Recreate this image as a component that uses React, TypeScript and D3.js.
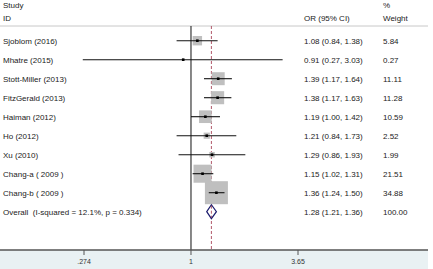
import React from 'react';
import * as d3 from 'd3';

// study rows, top to bottom
const studies = [
  'Sjoblom (2016)',
  'Mhatre (2015)',
  'Stott-Miller (2013)',
  'FitzGerald (2013)',
  'Haiman (2012)',
  'Ho (2012)',
  'Xu (2010)',
  'Chang-a ( 2009 )',
  'Chang-b ( 2009 )',
];
const oddsRatio = [1.08, 0.91, 1.39, 1.38, 1.19, 1.21, 1.29, 1.15, 1.36];
const ciLow = [0.84, 0.27, 1.17, 1.17, 1.0, 0.84, 0.86, 1.02, 1.24];
const ciHigh = [1.38, 3.03, 1.64, 1.63, 1.42, 1.73, 1.93, 1.31, 1.5];
const weights = [5.84, 0.27, 11.11, 11.28, 10.59, 2.52, 1.99, 21.51, 34.88];

// pooled estimate
const overallLabel = 'Overall\u00a0 (I-squared = 12.1%, p = 0.334)';
const overall = { or: 1.28, low: 1.21, high: 1.36, weight: 100 };

const axisTicks = [0.274, 1, 3.65];
const tickLabels = ['.274', '1', '3.65'];

const W = 433;
const H = 269;
const font = 'Liberation Sans, Arial, sans-serif';
const fmt = (v: number) => v.toFixed(2);

export default function App() {
  const x = d3.scaleLog().domain([0.274, 3.65]).range([84, 298]);
  const rows = [...studies, overallLabel];
  const y = d3.scalePoint<string>().domain(rows).range([40.7, 211.7]);
  // box side proportional to sqrt(weight)
  const side = d3.scaleSqrt().domain([0, 34.88]).range([0, 23]);

  const axisY = 250;
  const topY = 26;
  const oy = y(overallLabel)!;
  const dash = '#a8465a';

  return (
    <svg
      width={W}
      height={H}
      style={{ position: 'absolute', left: 0, top: 0, background: '#fff' }}
      fontFamily={font}
      fontSize={8}
    >
      <rect x={0} y={axisY} width={428} height={H - axisY} fill="#e9f1f3" />

      {/* headers */}
      <g fill="#222">
        <text x={3} y={7.5}>Study</text>
        <text x={3} y={20.5}>ID</text>
        <text x={304} y={20.5}>OR (95% CI)</text>
        <text x={383} y={7.5}>%</text>
        <text x={383} y={20.5}>Weight</text>
      </g>
      <line x1={0} x2={428} y1={topY} y2={topY} stroke="#c8c8c8" strokeWidth={1} />

      {/* null line and pooled-estimate line */}
      <line x1={x(1)} x2={x(1)} y1={topY} y2={axisY} stroke="#111" strokeWidth={1} />
      <line
        x1={x(overall.or)}
        x2={x(overall.or)}
        y1={topY}
        y2={axisY}
        stroke={dash}
        strokeWidth={0.9}
        strokeDasharray="3,2"
      />

      {studies.map((s, i) => {
        const cy = y(s)!;
        const sz = side(weights[i]);
        const cx = x(oddsRatio[i]);
        return (
          <g key={s}>
            <rect x={cx - sz / 2} y={cy - sz / 2} width={sz} height={sz} fill="#bfbfbf" />
            <line x1={x(ciLow[i])} x2={x(ciHigh[i])} y1={cy} y2={cy} stroke="#111" strokeWidth={1.1} />
            <rect x={cx - 1.3} y={cy - 1.3} width={2.6} height={2.6} fill="#000" />
            <text x={3} y={cy + 3.2} fill="#222">{s}</text>
            <text x={304} y={cy + 3.2} fill="#222">
              {`${fmt(oddsRatio[i])} (${fmt(ciLow[i])}, ${fmt(ciHigh[i])})`}
            </text>
            <text x={383} y={cy + 3.2} fill="#222">{fmt(weights[i])}</text>
          </g>
        );
      })}

      {/* overall diamond */}
      <path
        d={`M${x(overall.low)},${oy} L${x(overall.or)},${oy - 7} L${x(overall.high)},${oy} L${x(overall.or)},${oy + 7} Z`}
        fill="#fff"
        stroke="#1c1c6e"
        strokeWidth={1.2}
      />
      <line
        x1={x(overall.or)}
        x2={x(overall.or)}
        y1={oy - 6}
        y2={oy + 6}
        stroke={dash}
        strokeWidth={0.9}
        strokeDasharray="3,2"
      />
      <text x={3} y={oy + 3.2} fill="#222">{overallLabel}</text>
      <text x={304} y={oy + 3.2} fill="#222">
        {`${fmt(overall.or)} (${fmt(overall.low)}, ${fmt(overall.high)})`}
      </text>
      <text x={383} y={oy + 3.2} fill="#222">{fmt(overall.weight)}</text>

      {/* x axis */}
      <line x1={0} x2={428} y1={axisY} y2={axisY} stroke="#555" strokeWidth={1.4} />
      {axisTicks.map((t, i) => (
        <g key={t}>
          <line x1={x(t)} x2={x(t)} y1={axisY} y2={axisY + 5} stroke="#555" strokeWidth={1} />
          <text x={x(t)} y={264} textAnchor="middle" fontSize={7} fill="#333">
            {tickLabels[i]}
          </text>
        </g>
      ))}
    </svg>
  );
}
